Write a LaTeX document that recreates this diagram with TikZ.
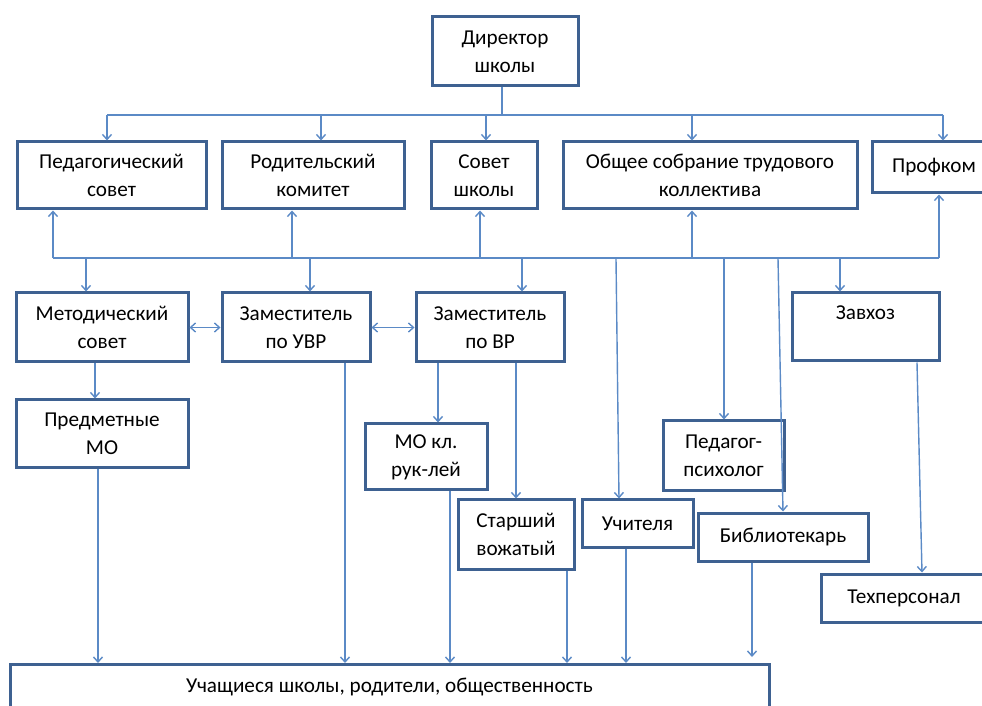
\documentclass[tikz,border=0pt]{standalone}
\usepackage{fontspec}
\setmainfont{Carlito}
\usetikzlibrary{arrows.meta}
\definecolor{boxblue}{HTML}{3E6191}
\definecolor{lineblue}{HTML}{5B8AC6}
\tikzset{
  box/.style={draw=boxblue, line width=1.5pt, fill=white, align=center, inner sep=2pt,
    font=\fontsize{10.6}{14}\selectfont},
  link/.style={draw=lineblue, line width=0.7pt},
  arr/.style={link, -{Straight Barb[length=2.5pt,width=4.5pt]}},
  dbl/.style={link, {Straight Barb[length=2.5pt,width=4.5pt]}-{Straight Barb[length=2.5pt,width=4.5pt]}}
}

\begin{document}
\begin{tikzpicture}[x=0.5pt,y=-0.5pt]
\useasboundingbox (0,0) rectangle (982,706);
\clip (0,0) rectangle (982,706);
% top
\node[box, minimum width=73pt, minimum height=34.5pt] (dir) at (505,51.5) {Директор\\школы};
\node[box, minimum width=94.5pt, minimum height=33.5pt] (ped) at (111.5,175.5) {Педагогический\\совет};
\node[box, minimum width=91pt, minimum height=33.5pt] (rod) at (313,175.5) {Родительский\\комитет};
\node[box, minimum width=53pt, minimum height=33.5pt] (sov) at (484,175.5) {Совет\\школы};
\node[box, minimum width=147pt, minimum height=33.5pt] (obs) at (710,175.5) {Общее собрание трудового\\коллектива};
\node[box, minimum width=62pt, minimum height=25.5pt] (prof) at (934,167.5) {Профком};
% middle
\node[box, minimum width=86pt, minimum height=34.5pt] (met) at (102,327.5) {Методический\\совет};
\node[box, minimum width=74pt, minimum height=34.5pt] (uvr) at (296,327.5) {Заместитель\\по УВР};
\node[box, minimum width=74pt, minimum height=34.5pt] (vr) at (490,327.5) {Заместитель\\по ВР};
\node[box, minimum width=73.5pt, minimum height=34pt] (zav) at (865.5,327) {Завхоз\\\mbox{}};
\node[box, minimum width=86pt, minimum height=34pt] (pmo) at (102,434) {Предметные\\МО};
\node[box, minimum width=61pt, minimum height=33pt] (mokl) at (426,457) {МО кл.\\рук-лей};
\node[box, minimum width=60.5pt, minimum height=35pt] (psy) at (723.5,456) {Педагог-\\психолог};
\node[box, minimum width=58pt, minimum height=34.5pt] (vozh) at (516,534.5) {Старший\\вожатый};
\node[box, minimum width=55.5pt, minimum height=23.5pt] (uch) at (637.5,523.5) {Учителя};
\node[box, minimum width=85pt, minimum height=24pt] (bib) at (783,537) {Библиотекарь};
\node[box, minimum width=83pt, minimum height=24pt] (tech) at (904,598) {Техперсонал};
% bottom
\node[box, anchor=north, minimum width=379.5pt, inner ysep=7pt, text depth=30pt] (bot) at (389.5,663)
  {Учащиеся школы, родители, общественность};

\coordinate (t0) at (502,115);
\draw[link] (t0 |- dir.south) -- (t0);
\foreach \n/\x in {ped/107,rod/321,sov/486,obs/692,prof/943} {
  \coordinate (t-\n) at (\x,115);
  \draw[arr] (t-\n) -- (t-\n |- \n.north);
}
\draw[link] (t-ped) -- (t-prof);

\foreach \n/\x in {ped/53,rod/292,sov/480,obs/692,prof/939} {
  \coordinate (m-\n) at (\x,258);
  \draw[arr] (m-\n) -- (m-\n |- \n.south);
}
\draw[link] (m-ped) -- (m-prof);
\foreach \n/\x in {met/86,uvr/310,vr/522,zav/840,psy/724} {
  \coordinate (d-\n) at (\x,258);
  \draw[arr] (d-\n) -- (d-\n |- \n.north);
}
\coordinate (d-uch) at (616,258);
\coordinate (d-bib) at (778,258);
\draw[arr] (d-uch) -- (uch.north -| 619,0);
\draw[arr] (d-bib) -- (bib.north -| 783,0);

\draw[dbl] (met.east) -- (uvr.west);
\draw[dbl] (uvr.east) -- (vr.west);
\draw[arr] (met.south -| 95,0) -- (pmo.north -| 95,0);
\draw[arr] (vr.south -| 438,0) -- (mokl.north -| 438,0);
\draw[arr] (vr.south -| vozh.north) -- (vozh.north);
\draw[arr] (zav.south -| 917,0) -- (tech.north -| 922,0);

\foreach \n/\x in {pmo/98,uvr/345,mokl/450,vozh/567,uch/626} {
  \draw[arr] (\n.south -| \x,0) -- (bot.north -| \x,0);
}
\draw[arr] (bib.south -| 752,0) -- (752,657);
\end{tikzpicture}
\end{document}
